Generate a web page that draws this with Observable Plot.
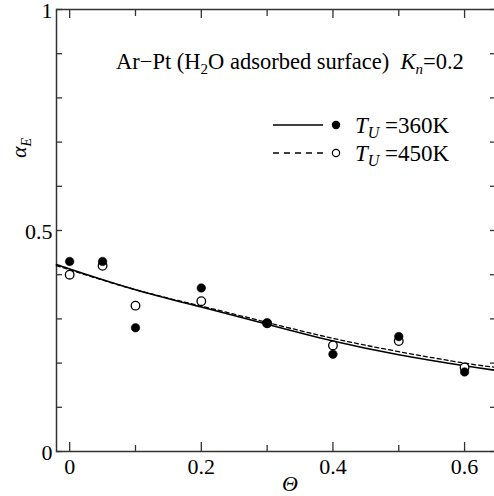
<!DOCTYPE html>
<html>
<head>
<meta charset="utf-8">
<script src="https://cdn.jsdelivr.net/npm/d3@7"></script>
<script src="https://cdn.jsdelivr.net/npm/@observablehq/plot@0.6"></script>
<style>
html,body{margin:0;padding:0;background:#fff;}
#chart svg, #chart svg text, #chart svg tspan { font-family: "Liberation Serif", "Times New Roman", "DejaVu Serif", serif !important; }
</style>
</head>
<body>
<div id="chart"></div>
<script>
// Measured points (coverage Θ vs energy accommodation coefficient α_E)
const theta = [0, 0.05, 0.1, 0.2, 0.3, 0.4, 0.5, 0.6];
const alpha360 = [0.43, 0.43, 0.28, 0.37, 0.29, 0.22, 0.26, 0.18];
const alpha450 = [0.40, 0.42, 0.33, 0.34, 0.29, 0.24, 0.25, 0.19];

// Fitted curves
const fitTheta = [-0.02, 0, 0.1, 0.2, 0.3, 0.4, 0.5, 0.6, 0.65];
const fit360 = [0.423, 0.413, 0.366, 0.327, 0.288, 0.250, 0.219, 0.194, 0.183];
const fit450 = [0.420, 0.411, 0.366, 0.329, 0.292, 0.256, 0.226, 0.200, 0.190];

// Ticks
const xMajorTicks = [0, 0.2, 0.4, 0.6];
const xMinorTicks = [0.1, 0.3, 0.5];
const yTicks = [0, 0.1, 0.2, 0.3, 0.4, 0.5, 0.6, 0.7, 0.8, 0.9, 1];
const yLabelTicks = [0, 0.5, 1];

const points = theta.map((t, i) => ({t, a360: alpha360[i], a450: alpha450[i]}));
const fits = fitTheta.map((t, i) => ({t, f360: fit360[i], f450: fit450[i]}));

const FONT = "Liberation Serif, Times New Roman, serif";
const AX = "#333";
const fmt = d => String(d);

const chart = Plot.plot({
  width: 494,
  height: 496,
  marginLeft: 56,
  marginRight: -3,
  marginTop: 9,
  marginBottom: 45,
  style: {fontFamily: FONT, background: "white", color: "#000", overflow: "hidden"},
  x: {domain: [-0.02, 0.65]},
  y: {domain: [0, 1]},
  marks: [
    Plot.frame({stroke: AX, strokeWidth: 1.5}),
    Plot.axisX(xMajorTicks, {anchor: "bottom", tickSize: -9, tickFormat: () => "", stroke: AX, strokeWidth: 1.3, label: null}),
    Plot.axisX(xMinorTicks, {anchor: "bottom", tickSize: -6, tickFormat: () => "", stroke: AX, strokeWidth: 1.3, label: null}),
    Plot.axisX(xMajorTicks, {anchor: "bottom", tickSize: 0, tickPadding: 7, tickFormat: fmt, fontSize: 22, fill: "#000", label: null}),
    Plot.axisX(xMajorTicks, {anchor: "top", tickSize: -8, tickFormat: () => "", stroke: AX, strokeWidth: 1.3, label: null}),
    Plot.axisX(xMinorTicks, {anchor: "top", tickSize: -6, tickFormat: () => "", stroke: AX, strokeWidth: 1.3, label: null}),
    Plot.axisY(yTicks, {anchor: "left", tickSize: -6, tickFormat: () => "", stroke: AX, strokeWidth: 1.3, label: null}),
    Plot.axisY(yLabelTicks, {anchor: "left", tickSize: 0, tickPadding: 4, dy: 1.5, tickFormat: fmt, fontSize: 22, fill: "#000", label: null}),
    Plot.axisY(yTicks, {anchor: "right", tickSize: -8, tickFormat: () => "", stroke: AX, strokeWidth: 1.3, label: null}),
    Plot.line(fits, {x: "t", y: "f450", stroke: "#000", strokeWidth: 1.3, strokeDasharray: "4,3", curve: "natural"}),
    Plot.line(fits, {x: "t", y: "f360", stroke: "#000", strokeWidth: 1.5, curve: "natural"}),
    Plot.dot(points, {x: "t", y: "a450", r: 4.3, fill: "white", stroke: "#000", strokeWidth: 1.3}),
    Plot.dot(points, {x: "t", y: "a360", r: 4.3, fill: "#000", stroke: "#000", strokeWidth: 0.5})
  ]
});

document.getElementById("chart").appendChild(chart);

// Rich-text annotations and legend
const svg = d3.select(chart);
const g = svg.append("g").attr("fill", "#000").attr("text-anchor", "start").style("white-space", "pre");

// Title
const title = g.append("text").attr("x", 116).attr("y", 69).attr("font-size", 22.5);
title.append("tspan").text("Ar\u2212Pt (H");
title.append("tspan").attr("font-size", 15).attr("dy", 5).text("2");
title.append("tspan").attr("dy", -5).text("O adsorbed surface)  ");
title.append("tspan").attr("font-style", "italic").text("K");
title.append("tspan").attr("font-style", "italic").attr("font-size", 15).attr("dy", 5).text("n");
title.append("tspan").attr("dy", -5).text("=0.2");

// Legend
const legendRows = [
  {label: "=360K", dash: null, fill: "#000", y: 125},
  {label: "=450K", dash: "6,5", fill: "white", y: 153}
];
legendRows.forEach(row => {
  g.append("line").attr("x1", 273).attr("x2", 323).attr("y1", row.y).attr("y2", row.y)
    .attr("stroke", "#000").attr("stroke-width", 1.4).attr("stroke-dasharray", row.dash);
  g.append("circle").attr("cx", 336).attr("cy", row.y).attr("r", 3.6)
    .attr("fill", row.fill).attr("stroke", "#000").attr("stroke-width", 1.2);
  const t = g.append("text").attr("x", 355).attr("y", row.y + 8).attr("font-size", 23);
  t.append("tspan").attr("font-style", "italic").text("T");
  t.append("tspan").attr("font-style", "italic").attr("font-size", 16).attr("dy", 5).text("U");
  t.append("tspan").attr("dy", -5).text(" " + row.label);
});

// Axis labels
const yl = g.append("text").attr("transform", "translate(26,148) rotate(-90)")
  .attr("text-anchor", "middle").attr("font-size", 22);
yl.append("tspan").attr("font-style", "italic").text("\u03B1");
yl.append("tspan").attr("font-style", "italic").attr("font-size", 14).attr("dy", 5).text("E");

g.append("text").attr("x", 290).attr("y", 491).attr("text-anchor", "middle")
  .attr("font-size", 22).attr("font-style", "italic").text("\u0398");
</script>
</body>
</html>
